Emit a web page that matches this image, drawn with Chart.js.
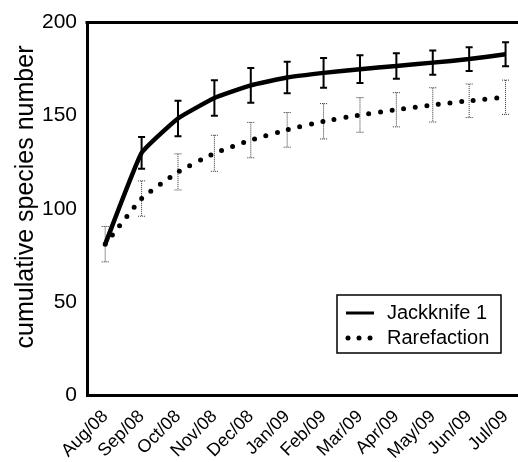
<!DOCTYPE html>
<html>
<head>
<meta charset="utf-8">
<script src="https://cdn.jsdelivr.net/npm/chart.js@4.4.1/dist/chart.umd.min.js"></script>
<style>
  html, body { margin: 0; padding: 0; background: #fff; overflow: hidden; }
  #wrap { width: 518px; height: 462px; overflow: hidden; }
  canvas { display: block; }
</style>
</head>
<body>
<div id="wrap"><canvas id="speciesChart" width="532" height="462" style="width:532px;height:462px"></canvas></div>
<script>
// data
const months = ["Aug/08","Sep/08","Oct/08","Nov/08","Dec/08","Jan/09","Feb/09","Mar/09","Apr/09","May/09","Jun/09","Jul/09"];
const jackknife = [81, 130, 148.5, 159.5, 166.3, 170.5, 173, 175, 176.7, 178.5, 180.4, 183];
const jackknifeErr = [0, 8.5, 9.5, 9.5, 9.3, 8.5, 8, 7.5, 6.9, 6.5, 6.4, 6.4];
const rarefaction = [81, 105.5, 119.8, 129.8, 136.9, 142.4, 147, 150.4, 153.2, 155.8, 158, 159.9];
const rarefactionErr = [9.5, 9.5, 9.7, 9.7, 9.5, 9.3, 9.5, 9.3, 9.2, 9.2, 9, 9.2];
const yTicks = [0, 50, 100, 150, 200];
const yTitle = "cumulative species number";

const FONT = "'Liberation Sans', Arial, Helvetica, sans-serif";

// error bars, drawn under the lines
const errorBars = {
  id: "errorBars",
  beforeDatasetsDraw(chart) {
    const ctx = chart.ctx;
    const x = chart.scales.x, y = chart.scales.y;
    chart.data.datasets.forEach((ds) => {
      if (!ds.errors) return;
      ctx.save();
      ctx.strokeStyle = ds.errColor;
      ctx.lineWidth = ds.errWidth;
      ctx.setLineDash(ds.errDash);
      ds.data.forEach((v, i) => {
        const e = ds.errors[i];
        if (!e) return;
        const px = x.getPixelForValue(i);
        const top = y.getPixelForValue(v + e);
        const bot = y.getPixelForValue(v - e);
        ctx.beginPath();
        ctx.moveTo(px, top); ctx.lineTo(px, bot);
        ctx.moveTo(px - 3.5, top); ctx.lineTo(px + 3.5, top);
        ctx.moveTo(px - 3.5, bot); ctx.lineTo(px + 3.5, bot);
        ctx.stroke();
      });
      ctx.restore();
    });
  }
};

// top frame line, y title and boxed legend
const frameAndLegend = {
  id: "frameAndLegend",
  afterDraw(chart) {
    const ctx = chart.ctx;
    const a = chart.chartArea;
    ctx.save();
    ctx.strokeStyle = "#000";
    ctx.lineWidth = 3;
    ctx.beginPath();
    ctx.moveTo(a.left - 1.5, a.top);
    ctx.lineTo(a.right, a.top);
    ctx.lineTo(a.right, a.bottom);
    ctx.stroke();

    // y axis title, sits a little above the middle in the original
    ctx.save();
    ctx.translate(33, 197);
    ctx.rotate(-Math.PI / 2);
    ctx.fillStyle = "#000";
    ctx.font = "25px " + FONT;
    ctx.textAlign = "center";
    ctx.textBaseline = "alphabetic";
    ctx.fillText(yTitle, 0, 0);
    ctx.restore();

    // legend box
    const bx = 337, by = 295, bw = 164, bh = 58;
    ctx.fillStyle = "#fff";
    ctx.fillRect(bx, by, bw, bh);
    ctx.lineWidth = 1.5;
    ctx.strokeRect(bx, by, bw, bh);

    const ds = chart.data.datasets;
    ctx.fillStyle = "#000";
    ctx.font = "20px " + FONT;
    ctx.textBaseline = "middle";

    ctx.lineWidth = 3;
    ctx.beginPath();
    ctx.moveTo(346, 313); ctx.lineTo(374, 313);
    ctx.stroke();
    ctx.fillText(ds[0].label, 387, 313);

    [348, 359, 370].forEach((dx) => {
      ctx.beginPath();
      ctx.arc(dx, 338, 2.5, 0, Math.PI * 2);
      ctx.fill();
    });
    ctx.fillText(ds[1].label, 387, 338);
    ctx.restore();
  }
};

new Chart(document.getElementById("speciesChart"), {
  type: "line",
  data: {
    labels: months,
    datasets: [
      {
        label: "Jackknife 1",
        data: jackknife,
        errors: jackknifeErr,
        errColor: "#000",
        errWidth: 2,
        errDash: [],
        borderColor: "#000",
        borderWidth: 4.5,
        tension: 0.12,
        pointRadius: 0,
        fill: false
      },
      {
        label: "Rarefaction",
        data: rarefaction,
        errors: rarefactionErr,
        errColor: "#333",
        errWidth: 1,
        errDash: [1, 1],
        borderColor: "#000",
        borderWidth: 5,
        borderDash: [0, 11.7],
        borderCapStyle: "round",
        tension: 0.12,
        pointRadius: 0,
        fill: false
      }
    ]
  },
  options: {
    responsive: false,
    animation: false,
    devicePixelRatio: 1,
    layout: { padding: { top: 18, right: 4, left: 0, bottom: 0 } },
    plugins: {
      legend: { display: false },
      tooltip: { enabled: false }
    },
    scales: {
      x: {
        offset: true,
        grid: { display: false, drawTicks: false },
        border: { display: true, color: "#000", width: 3 },
        ticks: {
          color: "#000",
          font: { family: FONT, size: 18 },
          maxRotation: 45,
          minRotation: 45,
          autoSkip: false,
          padding: 11
        },
        afterFit(scale) { scale.height = 67; }
      },
      y: {
        min: 0,
        max: 200,
        grid: { display: false, drawTicks: false },
        border: { display: true, color: "#000", width: 3 },
        afterBuildTicks(scale) { scale.ticks = yTicks.map((v) => ({ value: v })); },
        ticks: {
          color: "#000",
          font: { family: FONT, size: 21 },
          padding: 10
        },
        title: { display: false },
        afterFit(scale) { scale.width = 87; }
      }
    }
  },
  plugins: [errorBars, frameAndLegend]
});
</script>
</body>
</html>
